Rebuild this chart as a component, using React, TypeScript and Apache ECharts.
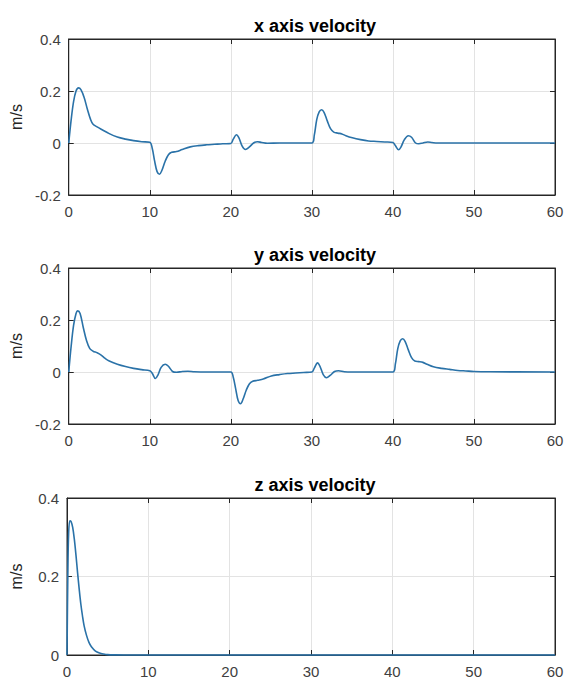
import React, { useEffect, useRef } from "react";
import * as echarts from "echarts";

// time (s), value (m/s)
const xTime = [0, 0.3, 0.6, 0.9, 1.2, 1.5, 1.9, 2.3, 2.7, 3.0, 3.5, 4.0, 5.0, 6.0, 7.0, 8.0, 9.0, 10.0, 10.3, 10.6, 10.9, 11.2, 11.5, 11.9, 12.3, 12.7, 13.3, 14.0, 15.0, 16.0, 17.0, 18.0, 19.0, 20.0, 20.3, 20.7, 21.0, 21.4, 21.8, 22.3, 22.8, 23.3, 23.8, 24.5, 26, 30, 30.3, 30.6, 30.9, 31.2, 31.5, 31.9, 32.3, 32.7, 33.2, 33.7, 34.2, 35, 36, 37, 38, 39, 40, 40.3, 40.7, 41.0, 41.4, 41.9, 42.3, 42.8, 43.2, 43.7, 44.3, 44.8, 45.5, 60];
const xVel = [0, 0.09, 0.16, 0.2, 0.212, 0.205, 0.175, 0.13, 0.09, 0.072, 0.062, 0.053, 0.036, 0.023, 0.015, 0.009, 0.005, 0.003, -0.02, -0.07, -0.11, -0.12, -0.105, -0.07, -0.045, -0.036, -0.033, -0.025, -0.015, -0.01, -0.007, -0.005, -0.003, -0.002, 0.015, 0.032, 0.02, -0.012, -0.025, -0.015, 0.0, 0.005, 0.002, -0.001, 0, 0, 0.03, 0.09, 0.12, 0.128, 0.118, 0.085, 0.055, 0.042, 0.038, 0.035, 0.028, 0.02, 0.013, 0.008, 0.006, 0.004, 0.002, -0.01, -0.026, -0.015, 0.012, 0.028, 0.022, 0.0, -0.003, 0.0, 0.004, 0.002, 0, 0];

const yTime = [0, 0.3, 0.6, 0.9, 1.1, 1.4, 1.8, 2.2, 2.6, 3.0, 3.5, 4.0, 4.5, 5.0, 6.0, 7.0, 8.0, 9.0, 10.0, 10.3, 10.7, 11.0, 11.4, 11.9, 12.3, 12.8, 13.3, 14.0, 14.7, 15.5, 17, 20, 20.3, 20.6, 20.9, 21.2, 21.5, 21.9, 22.3, 22.7, 23.3, 24, 25, 26, 27, 28, 29, 30, 30.3, 30.7, 31.0, 31.4, 31.8, 32.3, 32.8, 33.3, 34, 35, 40, 40.3, 40.6, 40.9, 41.2, 41.5, 41.9, 42.3, 42.7, 43.2, 43.7, 44.2, 45, 46, 47, 48, 49, 50, 52, 60];
const yVel = [0, 0.1, 0.18, 0.225, 0.235, 0.225, 0.17, 0.12, 0.09, 0.08, 0.074, 0.065, 0.052, 0.042, 0.03, 0.021, 0.014, 0.009, 0.005, -0.005, -0.025, -0.012, 0.018, 0.03, 0.022, 0.002, -0.001, 0.002, 0.003, 0.001, 0, 0, -0.02, -0.065, -0.11, -0.122, -0.105, -0.07, -0.045, -0.036, -0.032, -0.027, -0.015, -0.01, -0.006, -0.004, -0.002, 0, 0.015, 0.035, 0.022, -0.01, -0.022, -0.012, 0.002, 0.005, 0.001, 0, 0, 0.03, 0.09, 0.12, 0.128, 0.118, 0.085, 0.055, 0.042, 0.04, 0.037, 0.03, 0.02, 0.014, 0.01, 0.006, 0.004, 0.002, 0.001, 0];

const zTime = [0, 0.1, 0.2, 0.35, 0.5, 0.7, 0.9, 1.1, 1.3, 1.5, 1.7, 1.9, 2.1, 2.4, 2.7, 3.0, 3.5, 4.0, 4.5, 5.0, 6.0, 7, 60];
const zVel = [0, 0.2, 0.31, 0.342, 0.34, 0.325, 0.295, 0.255, 0.21, 0.168, 0.13, 0.1, 0.075, 0.05, 0.032, 0.021, 0.01, 0.005, 0.0025, 0.001, 0.0003, 0, 0];

const titles = ["x axis velocity", "y axis velocity", "z axis velocity"];
const yMins = [-0.2, -0.2, 0];
const yMax = 0.4;
const yStep = 0.2;
const xMin = 0;
const xMax = 60;
const xStep = 10;
const yName = "m/s";

const panels = [
  { t: xTime, v: xVel },
  { t: yTime, v: yVel },
  { t: zTime, v: zVel },
];

const gridTops = [39, 268, 498];
const gridHeights = [156, 156, 157];

export default function App() {
  const ref = useRef<HTMLDivElement>(null);
  useEffect(() => {
    if (!ref.current) return;
    const chart = echarts.init(ref.current, undefined, { renderer: "svg" });
    const axisColor = "#262626";
    const labelColor = "#404040";
    const font = "Liberation Sans, Arial, Helvetica, sans-serif";
    const grids: any[] = [];
    const xAxes: any[] = [];
    const yAxes: any[] = [];
    const series: any[] = [];
    const title: any[] = [];
    panels.forEach((p, i) => {
      grids.push({
        left: 66,
        right: 12,
        top: gridTops[i],
        height: gridHeights[i],
        show: true,
        borderColor: axisColor,
        borderWidth: 1,
        backgroundColor: "#fff",
      });
      title.push({
        text: titles[i],
        left: 310,
        top: gridTops[i] - 27,
        textAlign: "center",
        textStyle: { fontFamily: font, fontWeight: "bold", fontSize: 18, color: "#000" },
      });
      xAxes.push({
        type: "value",
        gridIndex: i,
        position: "bottom",
        min: xMin,
        max: xMax,
        interval: xStep,
        axisLine: { show: true, onZero: false, lineStyle: { color: axisColor, width: 1 } },
        axisTick: { show: true, inside: true, length: 5, lineStyle: { color: axisColor } },
        axisLabel: { color: labelColor, fontSize: 15, fontFamily: font, margin: 9 },
        splitLine: { show: true, lineStyle: { color: "#e3e3e3", width: 1 } },
      });
      xAxes.push({
        type: "value",
        gridIndex: i,
        position: "top",
        min: xMin,
        max: xMax,
        interval: xStep,
        axisLine: { show: true, onZero: false, lineStyle: { color: axisColor, width: 1 } },
        axisTick: { show: true, inside: true, length: 5, lineStyle: { color: axisColor } },
        axisLabel: { show: false },
        splitLine: { show: false },
      });
      yAxes.push({
        type: "value",
        gridIndex: i,
        position: "left",
        min: yMins[i],
        max: yMax,
        interval: yStep,
        name: yName,
        nameLocation: "middle",
        nameGap: 43,
        nameTextStyle: { color: axisColor, fontSize: 16, fontFamily: font },
        axisLine: { show: true, onZero: false, lineStyle: { color: axisColor, width: 1 } },
        axisTick: { show: true, inside: true, length: 5, lineStyle: { color: axisColor } },
        axisLabel: {
          color: labelColor,
          fontSize: 15,
          fontFamily: font,
          margin: 8,
          formatter: (v: number) => (Math.abs(v) < 1e-9 ? "0" : v.toFixed(1)),
        },
        splitLine: { show: true, lineStyle: { color: "#e3e3e3", width: 1 } },
      });
      yAxes.push({
        type: "value",
        gridIndex: i,
        position: "right",
        min: yMins[i],
        max: yMax,
        interval: yStep,
        axisLine: { show: true, onZero: false, lineStyle: { color: axisColor, width: 1 } },
        axisTick: { show: true, inside: true, length: 5, lineStyle: { color: axisColor } },
        axisLabel: { show: false },
        splitLine: { show: false },
      });
      series.push({
        type: "line",
        xAxisIndex: 2 * i,
        yAxisIndex: 2 * i,
        data: p.t.map((t, k) => [t, p.v[k]]),
        showSymbol: false,
        smooth: 0.35,
        clip: false,
        lineStyle: { color: "#2a72a8", width: 1.6 },
        z: 3,
      });
    });
    chart.setOption({
      animation: false,
      backgroundColor: "#fff",
      title,
      grid: grids,
      xAxis: xAxes,
      yAxis: yAxes,
      series,
    });
    return () => chart.dispose();
  }, []);
  return (
    <div
      ref={ref}
      style={{ position: "absolute", left: 0, top: 0, width: 567, height: 684, background: "#fff" }}
    />
  );
}
